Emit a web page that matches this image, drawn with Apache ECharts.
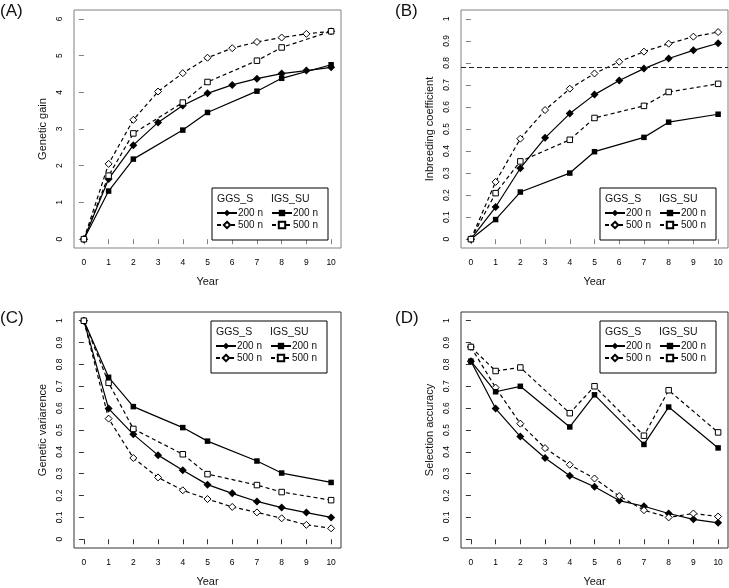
<!DOCTYPE html>
<html>
<head>
<meta charset="utf-8">
<script src="https://cdn.jsdelivr.net/npm/echarts@6/dist/echarts.min.js"></script>
<style>
html,body{margin:0;padding:0;background:#fff;}
#chart{width:729px;height:588px;}
</style>
</head>
<body>
<div id="chart"></div>
<script>
// ---------- data ----------
const years = [0,1,2,3,4,5,6,7,8,9,10];
const igsYears = [0,1,2,4,5,7,8,10];
const yearTicks = [0,1,2,3,4,5,6,7,8,9,10];
const gainTicks = [0,1,2,3,4,5,6];
const unitTicks = [0,0.1,0.2,0.3,0.4,0.5,0.6,0.7,0.8,0.9,1];

// (A) Genetic gain
const gainGGS200 = [0,1.64,2.56,3.18,3.64,3.97,4.20,4.37,4.51,4.59,4.68];
const gainGGS500 = [0,2.05,3.25,4.02,4.52,4.94,5.20,5.37,5.49,5.59,5.66];
const gainIGS200 = [0,1.31,2.18,2.97,3.45,4.03,4.38,4.75];
const gainIGS500 = [0,1.73,2.88,3.72,4.28,4.86,5.22,5.66];

// (B) Inbreeding coefficient
const inbGGS200 = [0,0.146,0.322,0.46,0.57,0.656,0.72,0.774,0.82,0.857,0.889];
const inbGGS500 = [0,0.26,0.456,0.586,0.683,0.752,0.805,0.851,0.887,0.919,0.94];
const inbIGS200 = [0,0.089,0.214,0.30,0.397,0.462,0.531,0.567];
const inbIGS500 = [0,0.209,0.353,0.451,0.55,0.605,0.668,0.705];
const inbreedingThreshold = 0.78;

// (C) Genetic variance
const varGGS200 = [1,0.598,0.48,0.385,0.316,0.25,0.21,0.173,0.145,0.122,0.1];
const varGGS500 = [1,0.552,0.372,0.283,0.224,0.184,0.148,0.123,0.096,0.066,0.05];
const varIGS200 = [1,0.741,0.607,0.511,0.449,0.358,0.303,0.26];
const varIGS500 = [1,0.716,0.505,0.389,0.298,0.248,0.216,0.179];

// (D) Selection accuracy
const accGGS200 = [0.815,0.598,0.47,0.372,0.291,0.24,0.177,0.151,0.118,0.091,0.075];
const accGGS500 = [0.88,0.694,0.529,0.417,0.341,0.278,0.198,0.133,0.1,0.118,0.104];
const accIGS200 = [0.815,0.675,0.70,0.514,0.661,0.434,0.605,0.418];
const accIGS500 = [0.88,0.77,0.786,0.577,0.70,0.474,0.682,0.489];

const panelLabels = ['(A)','(B)','(C)','(D)'];
const yTitles = ['Genetic gain','Inbreeding coefficient','Genetic variarence','Selection accuracy'];
const xTitle = 'Year';
const groupNames = ['GGS_S','IGS_SU'];
const sizeNames = ['200 n','500 n'];

// ---------- layout ----------
const FONT = '"Liberation Sans", Arial, Helvetica, sans-serif';
const panels = [
  {grid:{left:74, top:10, width:267, height:238}, yMin:-0.24, yMax:6.24, ticks:gainTicks, frame:'#808080',
   legend:{x:212,y:188}, label:{x:0,y:3}, data:[gainGGS200,gainGGS500,gainIGS200,gainIGS500]},
  {grid:{left:461, top:10, width:267, height:238}, yMin:-0.04, yMax:1.04, ticks:unitTicks, frame:'#808080',
   legend:{x:600,y:188}, label:{x:395,y:3}, data:[inbGGS200,inbGGS500,inbIGS200,inbIGS500]},
  {grid:{left:74, top:312, width:267, height:239.6}, yMin:-0.04, yMax:1.04, ticks:unitTicks, frame:'#333',
   legend:{x:211,y:321}, label:{x:0,y:310}, data:[varGGS200,varGGS500,varIGS200,varIGS500]},
  {grid:{left:461, top:312, width:267, height:239.6}, yMin:-0.04, yMax:1.04, ticks:unitTicks, frame:'#333',
   legend:{x:600,y:321}, label:{x:395,y:310}, data:[accGGS200,accGGS500,accIGS200,accIGS500]}
];

const grids = [], xAxes = [], yAxes = [], series = [], legends = [], titles = [], graphics = [];

panels.forEach((p, k) => {
  grids.push(Object.assign({show:true, borderColor:p.frame, borderWidth:1, backgroundColor:'transparent'}, p.grid));
  xAxes.push({
    gridIndex:k, type:'value', min:-0.4, max:10.4,
    axisLine:{show:false},
    axisTick:{show:true, length:5, customValues:yearTicks, lineStyle:{color:p.frame, width:1}},
    axisLabel:{customValues:yearTicks, fontSize:8.5, margin:10, color:'#000', fontFamily:FONT},
    splitLine:{show:false},
    name:xTitle, nameLocation:'middle', nameGap:28,
    nameTextStyle:{fontSize:11, color:'#111', fontFamily:FONT}
  });
  yAxes.push({
    gridIndex:k, type:'value', min:p.yMin, max:p.yMax,
    axisLine:{show:false},
    axisTick:{show:true, length:5, customValues:p.ticks, lineStyle:{color:p.frame, width:1}},
    axisLabel:{customValues:p.ticks, fontSize:8.5, margin:10, rotate:90, color:'#000', fontFamily:FONT},
    splitLine:{show:false},
    name:yTitles[k], nameLocation:'middle', nameGap:26, nameRotate:90,
    nameTextStyle:{fontSize:11, color:'#111', fontFamily:FONT}
  });
  const specs = [
    {xs:years, vals:p.data[0], g:0, s:0, symbol:'diamond', size:8, fill:'#000', dash:'solid'},
    {xs:years, vals:p.data[1], g:0, s:1, symbol:'diamond', size:7, fill:'#fff', dash:[4,3]},
    {xs:igsYears, vals:p.data[2], g:1, s:0, symbol:'rect', size:5.5, fill:'#000', dash:'solid'},
    {xs:igsYears, vals:p.data[3], g:1, s:1, symbol:'rect', size:5.5, fill:'#fff', dash:[4,3]}
  ];
  const names = [[],[]];
  specs.forEach(sp => {
    const name = panelLabels[k] + '|' + groupNames[sp.g] + '|' + sizeNames[sp.s];
    names[sp.g].push(name);
    const ser = {
      name, type:'line', xAxisIndex:k, yAxisIndex:k,
      data: sp.xs.map((x,i)=>[x, sp.vals[i]]),
      symbol:sp.symbol, symbolSize:sp.size, showAllSymbol:true,
      itemStyle:{color:sp.fill, borderColor:'#000', borderWidth: sp.fill==='#fff'?1:0},
      lineStyle:{color:'#000', width:1.2, type:sp.dash},
      emphasis:{disabled:true}, silent:true, animation:false
    };
    if (k===1 && sp.g===0 && sp.s===0) {
      ser.markLine = {silent:true, symbol:['none','none'], label:{show:false},
        lineStyle:{color:'#222', width:1.2, type:[5,3]},
        data:[{yAxis:inbreedingThreshold}]};
    }
    series.push(ser);
  });
  const L = p.legend;
  graphics.push({type:'rect', shape:{x:L.x, y:L.y, width:116, height:52}, style:{fill:'#fff', stroke:'#000', lineWidth:1}, z:1});
  graphics.push({type:'text', x:L.x+5, y:L.y+6, style:{text:groupNames[0], fontSize:10.5, fontFamily:FONT, fill:'#111'}, z:5});
  graphics.push({type:'text', x:L.x+59, y:L.y+6, style:{text:groupNames[1], fontSize:10.5, fontFamily:FONT, fill:'#111'}, z:5});
  [0,1].forEach(g => {
    legends.push({
      data:names[g], orient:'vertical', left:L.x + (g===0?4:59), top:L.y+20,
      itemWidth:20, itemHeight:8, itemGap:2, padding:0, selectedMode:false,
      formatter:(n)=>n.split('|')[2],
      textStyle:{fontSize:10, fontFamily:FONT, color:'#111', padding:[0,0,0,-4]}
    });
  });
  titles.push({text:panelLabels[k], left:p.label.x, top:p.label.y, padding:0,
    textStyle:{fontSize:17, fontWeight:'normal', fontFamily:FONT, color:'#111'}});
});

const chart = echarts.init(document.getElementById('chart'), null, {renderer:'canvas'});
chart.setOption({
  animation:false,
  backgroundColor:'#fff',
  title:titles, grid:grids, xAxis:xAxes, yAxis:yAxes, legend:legends, series, graphic:graphics
});
</script>
</body>
</html>
